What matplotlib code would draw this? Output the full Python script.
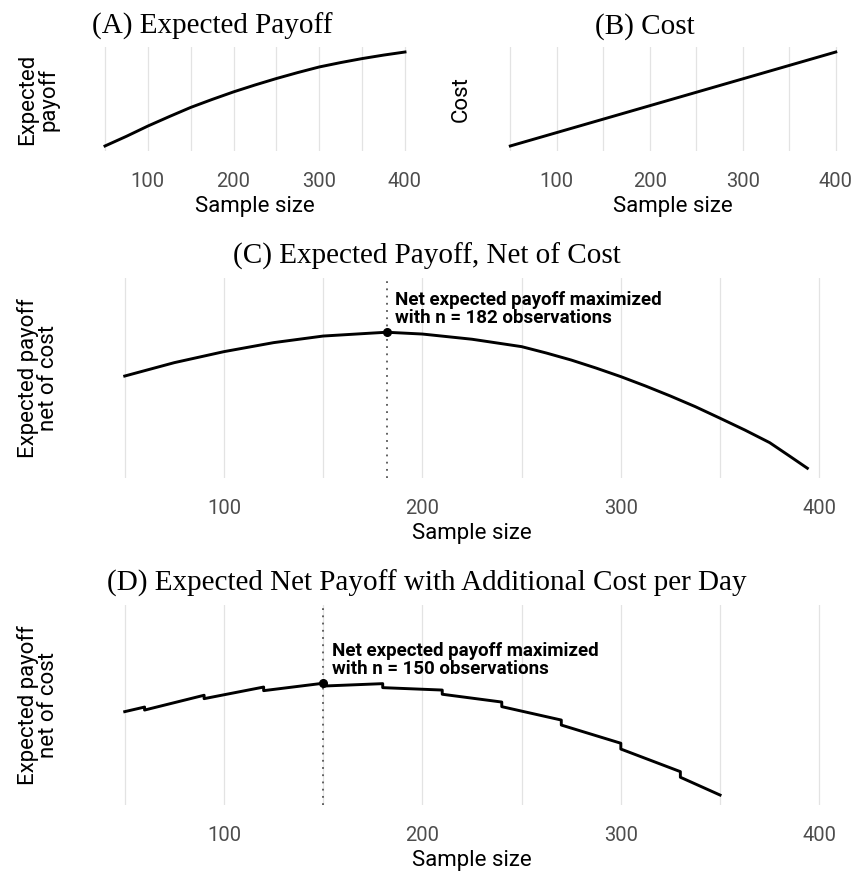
import matplotlib
matplotlib.use("Agg")
import matplotlib.pyplot as plt

# (A) expected payoff
payoff_n = [50, 75, 100, 125, 150, 175, 200, 225, 250, 275, 300, 325, 350, 375, 400]
payoff_val = [4.0, 13.7, 24.0, 33.5, 42.7, 50.7, 58.3, 65.2, 71.7, 77.7, 83.3, 87.7, 91.7, 95.2, 98.3]

# (B) cost is a straight line
cost_n = [50, 400]
cost_val = [4.0, 98.3]

# (C) expected payoff net of cost
net_n = [50, 75, 100, 125, 150, 175, 182, 200, 225, 250, 262.5, 275, 287.5, 300,
         312.5, 325, 337.5, 350, 362.5, 375, 385, 394]
net_val = [51.0, 57.7, 63.2, 67.7, 71.0, 72.5, 72.9, 72.0, 69.4, 65.7, 62.5, 59.0, 55.0, 50.7,
           46.0, 41.0, 35.7, 29.9, 24.0, 17.7, 11.0, 4.9]
net_best_n = 182

# (D) net payoff with extra cost per day (jumps every 30 observations)
day_n = [50, 60, 60, 90, 90, 120, 120, 150, 150, 180, 180, 210, 210,
         240, 240, 270, 270, 300, 300, 330, 330, 350]
day_val = [46.7, 49.0, 47.5, 54.9, 53.2, 59.0, 57.2, 60.9, 59.5, 60.7, 58.7, 57.5, 55.4,
           51.5, 49.2, 42.5, 40.0, 30.9, 28.0, 16.7, 13.9, 5.0]
day_best_n = 150
day_best_val = 60.9

major_ticks = [100, 200, 300, 400]
minor_ticks = [50, 150, 250, 350]

sans = ['Roboto', 'DejaVu Sans']
serif = ['Liberation Serif', 'DejaVu Serif']

fig = plt.figure(figsize=(8.54, 8.76), dpi=100)


def style(ax, title, ylabel, title_x):
    ax.set_xlim(32.5, 417.5)
    ax.set_xticks(major_ticks)
    ax.set_xticks(minor_ticks, minor=True)
    ax.set_xticklabels([str(t) for t in major_ticks], family=sans, fontsize=14.5, color='#4d4d4d')
    ax.set_yticks([])
    ax.tick_params(axis='x', which='both', length=0, pad=15)
    ax.grid(axis='x', which='both', color='#e3e3e3', lw=0.9)
    ax.set_axisbelow(True)
    for s in ax.spines.values():
        s.set_visible(False)
    ax.set_xlabel('Sample size', family=sans, fontsize=16, labelpad=4)
    ax.set_ylabel(ylabel, family=sans, fontsize=16, linespacing=0.95, labelpad=22)
    ax.set_title(title, family=serif, fontsize=21, pad=10, x=title_x)


axA = fig.add_axes([0.1054, 0.8280, 0.3864, 0.1180])
axA.plot(payoff_n, payoff_val, color='black', lw=2.1)
style(axA, '(A) Expected Payoff', 'Expected\npayoff', 0.37)

axB = fig.add_axes([0.5785, 0.8280, 0.4192, 0.1180])
axB.plot(cost_n, cost_val, color='black', lw=2.1)
style(axB, '(B) Cost', 'Cost', 0.42)
axB.yaxis.labelpad = 16

axC = fig.add_axes([0.1054, 0.4543, 0.8946, 0.2283])
axC.plot(net_n, net_val, color='black', lw=2.1)
axC.set_ylim(0, 100)
best_c = net_val[net_n.index(net_best_n)]
axC.axvline(net_best_n, color='#555555', ls=(0, (1, 3)), lw=1.3)
axC.plot([net_best_n], [best_c], 'o', color='black', ms=5.5)
axC.annotate('Net expected payoff maximized\nwith n = %d observations' % net_best_n,
             xy=(net_best_n, best_c), xytext=(6, 4), textcoords='offset points',
             ha='left', va='bottom', family=sans, fontsize=13.5, fontweight='bold',
             linespacing=1.0)
style(axC, '(C) Expected Payoff, Net of Cost', 'Expected payoff\nnet of cost', 0.441)

axD = fig.add_axes([0.1054, 0.0810, 0.8946, 0.2283])
axD.plot(day_n, day_val, color='black', lw=2.1)
axD.set_ylim(0, 100)
axD.axvline(day_best_n, color='#555555', ls=(0, (1, 3)), lw=1.3)
axD.plot([day_best_n], [day_best_val], 'o', color='black', ms=5.5)
axD.annotate('Net expected payoff maximized\nwith n = %d observations' % day_best_n,
             xy=(day_best_n, day_best_val), xytext=(6, 4), textcoords='offset points',
             ha='left', va='bottom', family=sans, fontsize=13.5, fontweight='bold',
             linespacing=1.0)
style(axD, '(D) Expected Net Payoff with Additional Cost per Day', 'Expected payoff\nnet of cost', 0.441)

fig.savefig('out.png', dpi=100)
